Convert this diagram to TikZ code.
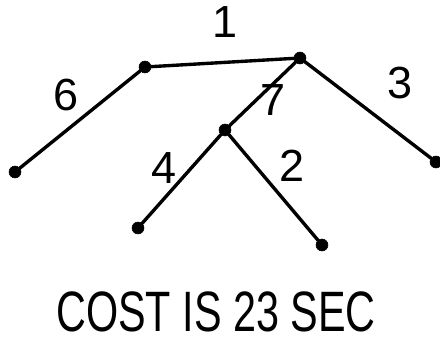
\documentclass[tikz,border=0pt]{standalone}
\usepackage{fontspec}
\setmainfont{Liberation Sans}
\usetikzlibrary{positioning,calc}

\begin{document}
\begin{tikzpicture}[
  x=0.025cm, y=-0.025cm,
  vert/.style={draw, fill=black, circle, inner sep=0pt, minimum size=8.5pt},
  edge/.style={line width=2.4pt, line cap=round},
  wt/.style={font=\fontsize{32}{34}\selectfont}
]
  \useasboundingbox (0,0) rectangle (440,345);
  % vertices
  \node[vert] (top)   at (145,67)  {};
  \node[vert] (root)  at (300,58)  {};
  \node[vert] (far)   at (15,172)  {};
  \node[vert] (mid)   at (225,130) {};
  \node[vert] (lowl)  at (138,228) {};
  \node[vert] (lowr)  at (322,245) {};
  \node[vert] (right) at (436,162) {};
  % edges
  \draw[edge] (top) -- (root);
  \draw[edge] (top) -- (far);
  \draw[edge] (root) -- (mid);
  \draw[edge] (root) -- (right);
  \draw[edge] (mid) -- (lowl);
  \draw[edge] (mid) -- (lowr);
  % weights
  \node[wt] (w1) at (225,22)  {1};
  \node[wt] (w6) at (66,95)   {6};
  \node[wt] (w7) at (273,100) {7};
  \node[wt] (w3) at (400,83)  {3};
  \node[wt] (w4) at (164,168) {4};
  \node[wt] (w2) at (292,166) {2};
  % total
  \node[font=\fontsize{30}{34}\selectfont, inner sep=0pt, xscale=0.98, yscale=1.35, transform shape]
    (cost) at (216,312) {COST IS 23 SEC};
\end{tikzpicture}
\end{document}
